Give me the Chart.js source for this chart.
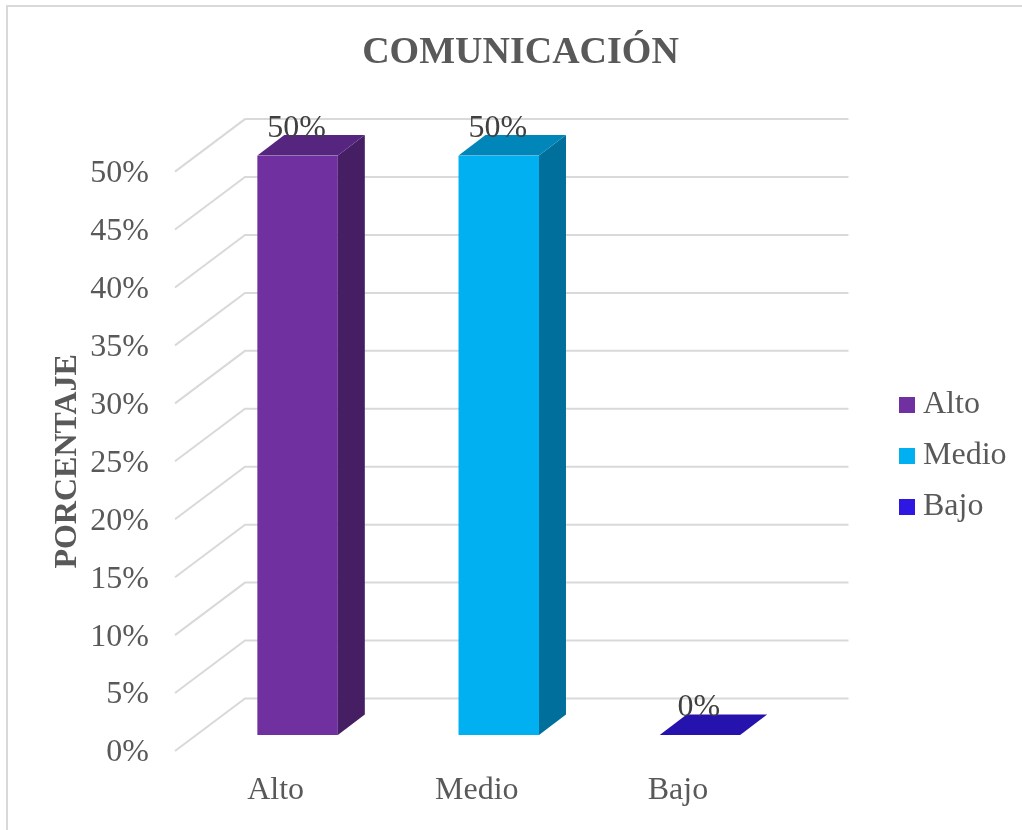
<!DOCTYPE html>
<html>
<head>
<meta charset="utf-8">
<title>COMUNICACIÓN</title>
<script src="https://cdn.jsdelivr.net/npm/chart.js@4/dist/chart.umd.min.js"></script>
<style>
    body { margin: 0; background: #fff; }
    canvas { display: block; }
</style>
</head>
<body>
<canvas id="chart" width="1022" height="830"></canvas>
<script>
// ===== Data =====
const categories = ['Alto', 'Medio', 'Bajo'];
const values = [50, 50, 0];

// ===== Styles =====
const frontColors = ['#7030A0', '#00B0F0', '#2E17E2'];
const topColors = ['#562580', '#0086B8', '#2613AE'];
const sideColors = ['#451E63', '#006F9C', '#1E0E8C'];
const textColor = '#595959';
const gridColor = '#D9D9D9';
const serif = '"Liberation Serif", serif';

// fake 3D offsets, in pixels, from the front plane of the axes
const wall = { x: 70, y: -52.5 };
const barShift = { x: 22, y: -16 };
const barDepth = { x: 27, y: -20.5 };

function fillPoly(ctx, color, pts) {
    ctx.fillStyle = color;
    ctx.beginPath();
    pts.forEach((p, i) => i ? ctx.lineTo(p[0], p[1]) : ctx.moveTo(p[0], p[1]));
    ctx.closePath();
    ctx.fill();
}

const fake3d = {
    id: 'fake3d',
    afterLayout(chart) {
        // Excel keeps the title and legend off the plot centre
        chart.titleBlock.left = 19;
        chart.titleBlock.right = 1022;
        chart.legend.left = 888;
        chart.legend.right = 1022;
        chart.legend.top = 370;
        chart.legend.bottom = 830;
    },
    beforeDraw(chart) {
        const ctx = chart.ctx;
        ctx.save();
        ctx.strokeStyle = gridColor;
        ctx.lineWidth = 2;
        ctx.strokeRect(7, 6, 1100, 900);
        ctx.restore();
    },
    beforeDatasetsDraw(chart) {
        const ctx = chart.ctx;
        const { left, right } = chart.chartArea;
        const y = chart.scales.y;
        ctx.save();
        ctx.strokeStyle = gridColor;
        ctx.lineWidth = 2;
        y.ticks.forEach(t => {
            const py = y.getPixelForValue(t.value);
            ctx.beginPath();
            ctx.moveTo(left, py);
            ctx.lineTo(left + wall.x, py + wall.y);
            ctx.lineTo(right + wall.x, py + wall.y);
            ctx.stroke();
        });
        ctx.restore();
        // bars stand behind the front plane
        ctx.save();
        ctx.translate(barShift.x, barShift.y);
    },
    afterDatasetsDraw(chart) {
        const ctx = chart.ctx;
        ctx.restore();
        chart.getDatasetMeta(0).data.forEach((bar, i) => {
            const x0 = bar.x - bar.width / 2 + barShift.x;
            const x1 = bar.x + bar.width / 2 + barShift.x;
            const top = bar.y + barShift.y;
            const base = bar.base + barShift.y;
            fillPoly(ctx, sideColors[i], [
                [x1, top], [x1 + barDepth.x, top + barDepth.y],
                [x1 + barDepth.x, base + barDepth.y], [x1, base]
            ]);
            fillPoly(ctx, topColors[i], [
                [x0, top], [x0 + barDepth.x, top + barDepth.y],
                [x1 + barDepth.x, top + barDepth.y], [x1, top]
            ]);
            ctx.save();
            ctx.fillStyle = '#404040';
            ctx.font = '32px ' + serif;
            ctx.textAlign = 'center';
            ctx.textBaseline = 'middle';
            ctx.fillText(values[i] + '%', (x0 + x1) / 2 - 1, top - 27);
            ctx.restore();
        });
    }
};

// ===== Chart =====
new Chart(document.getElementById('chart'), {
    type: 'bar',
    data: {
        labels: categories,
        datasets: [{
            data: values,
            backgroundColor: frontColors,
            categoryPercentage: 1,
            barPercentage: 0.4
        }]
    },
    options: {
        responsive: false,
        animation: false,
        layout: { padding: { right: 243.5 } },
        plugins: {
            tooltip: { enabled: false },
            title: {
                display: true,
                text: 'COMUNICACIÓN',
                color: textColor,
                font: { family: serif, size: 38, weight: 'bold' },
                padding: { top: 30, bottom: 96 }
            },
            legend: {
                position: 'chartArea',
                align: 'start',
                onClick: null,
                labels: {
                    color: textColor,
                    font: { family: serif, size: 32 },
                    usePointStyle: true,
                    pointStyle: 'rect',
                    boxWidth: 0.01,
                    boxHeight: 16,
                    padding: 19,
                    generateLabels: () => categories.map((c, i) => ({
                        text: c,
                        fillStyle: frontColors[i],
                        strokeStyle: frontColors[i],
                        fontColor: textColor,
                        lineWidth: 0,
                        pointStyle: 'rect',
                        index: i
                    }))
                }
            }
        },
        scales: {
            x: {
                grid: { display: false, drawTicks: false },
                border: { display: false },
                ticks: {
                    color: textColor,
                    font: { family: serif, size: 32 },
                    padding: 20,
                    maxRotation: 0
                },
                afterFit(scale) { scale.height = 79; }
            },
            y: {
                min: 0,
                max: 50,
                grid: { display: false, drawTicks: false },
                border: { display: false },
                ticks: {
                    stepSize: 5,
                    color: textColor,
                    font: { family: serif, size: 32 },
                    padding: 26,
                    labelOffset: 2,
                    callback: v => v + '%'
                },
                title: {
                    display: true,
                    text: 'PORCENTAJE',
                    color: textColor,
                    font: { family: serif, size: 32, weight: 'bold' },
                    padding: { top: 49, bottom: 0 }
                },
                afterFit(scale) { scale.width = 175; }
            }
        }
    },
    plugins: [fake3d]
});
</script>
</body>
</html>
